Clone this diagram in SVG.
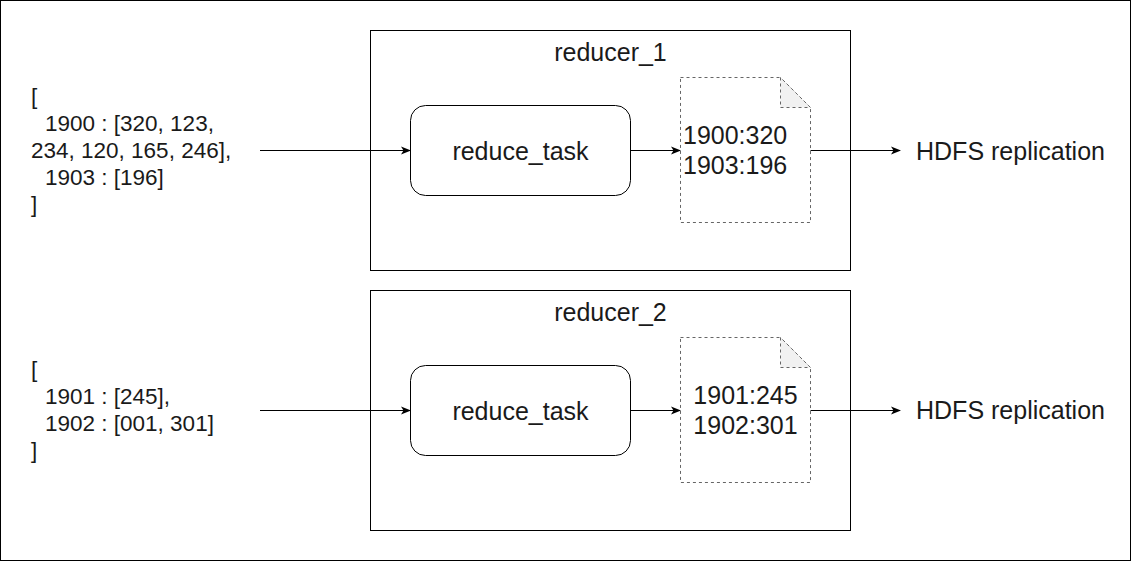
<svg xmlns="http://www.w3.org/2000/svg" width="1132" height="561" viewBox="0 0 1132 561">
<defs>
<marker id="arr" viewBox="0 0 10 10" refX="9" refY="5" markerWidth="10" markerHeight="10" markerUnits="userSpaceOnUse" orient="auto">
<path d="M0,1 L10,5 L0,9 L2.5,5 Z" fill="#000"/>
</marker>
</defs>
<style>
text{font-family:"Liberation Sans",Arial,sans-serif;fill:#1a1a1a}
.box{fill:#fff;stroke:#000;stroke-width:1}
.task{fill:#fff;stroke:#000;stroke-width:1}
.doc{fill:#fff;stroke:#666;stroke-width:1;stroke-dasharray:3 3}
.fold{fill:#f1f1f1;stroke:#666;stroke-width:1;stroke-dasharray:3 3}
.lbl{font-size:25px}
.in{font-size:22.5px}
.edge{fill:none;stroke:#000;stroke-width:1;marker-end:url(#arr)}
</style>
<rect x="0.5" y="0.5" width="1130" height="560" fill="#fff" stroke="#000"/>
<g id="reducer_1">
<rect class="box" x="370.5" y="30.5" width="480" height="240"/>
<text class="lbl" x="610.5" y="61" text-anchor="middle">reducer_1</text>
</g>
<g id="reducer_2">
<rect class="box" x="370.5" y="290.5" width="480" height="240"/>
<text class="lbl" x="610.5" y="321" text-anchor="middle">reducer_2</text>
</g>
<g id="input_1">
<text class="in" x="31" y="104">[</text>
<text class="in" x="45" y="131">1900 : [320, 123,</text>
<text class="in" x="31" y="158">234, 120, 165, 246],</text>
<text class="in" x="45" y="185">1903 : [196]</text>
<text class="in" x="31" y="212">]</text>
</g>
<g id="input_2">
<text class="in" x="31" y="377">[</text>
<text class="in" x="45" y="404">1901 : [245],</text>
<text class="in" x="45" y="431">1902 : [001, 301]</text>
<text class="in" x="31" y="458">]</text>
</g>
<g id="reduce_task_1">
<rect class="task" x="410.5" y="105.5" width="220" height="90" rx="15" ry="15"/>
<text class="lbl" x="520.5" y="159.5" text-anchor="middle">reduce_task</text>
</g>
<g id="reduce_task_2">
<rect class="task" x="410.5" y="365.5" width="220" height="90" rx="15" ry="15"/>
<text class="lbl" x="520.5" y="419.5" text-anchor="middle">reduce_task</text>
</g>
<g id="output_1">
<path class="doc" d="M680.5,77.5 H780.5 L810.5,107.5 V222.5 H680.5 Z"/>
<path class="fold" d="M780.5,77.5 V107.5 H810.5 Z"/>
<text class="lbl" x="683" y="144">1900:320</text>
<text class="lbl" x="683" y="174">1903:196</text>
</g>
<g id="output_2">
<path class="doc" d="M680.5,337.5 H780.5 L810.5,367.5 V482.5 H680.5 Z"/>
<path class="fold" d="M780.5,337.5 V367.5 H810.5 Z"/>
<text class="lbl" x="745.5" y="404" text-anchor="middle">1901:245</text>
<text class="lbl" x="745.5" y="434" text-anchor="middle">1902:301</text>
</g>
<g id="hdfs_1">
<text class="lbl" x="916" y="160">HDFS replication</text>
</g>
<g id="hdfs_2">
<text class="lbl" x="916" y="419">HDFS replication</text>
</g>
<g id="connectors">
<path class="edge" d="M260,150.5 H410"/>
<path class="edge" d="M630.5,150.5 H680"/>
<path class="edge" d="M810.5,150.5 H900"/>
<path class="edge" d="M260,410.5 H410"/>
<path class="edge" d="M630.5,410.5 H680"/>
<path class="edge" d="M810.5,410.5 H900"/>
</g>
</svg>
